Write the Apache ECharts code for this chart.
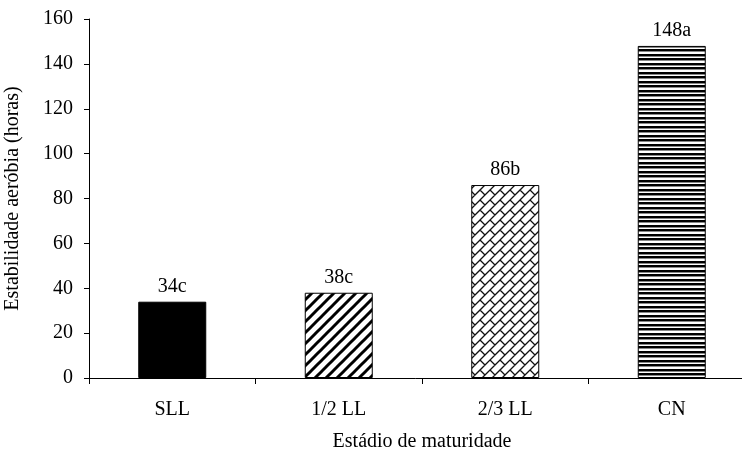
<!DOCTYPE html>
<html>
<head>
<meta charset="utf-8">
<script src="https://cdn.jsdelivr.net/npm/echarts@6/dist/echarts.min.js"></script>
<style>
    html, body { margin: 0; padding: 0; background: #fff; }
    #chart { width: 742px; height: 455px; }
</style>
</head>
<body>
<div id="chart"></div>
<script>
var categories = ['SLL', '1/2 LL', '2/3 LL', 'CN'];
var values = [34, 38, 86, 148];
var letters = ['c', 'c', 'b', 'a'];

// pattern tiles
function makeTile(w, h, draw) {
    var c = document.createElement('canvas');
    c.width = w; c.height = h;
    var ctx = c.getContext('2d');
    ctx.fillStyle = '#fff';
    ctx.fillRect(0, 0, w, h);
    ctx.strokeStyle = '#000';
    ctx.fillStyle = '#000';
    draw(ctx);
    return c;
}

var diagTile = makeTile(11, 11, function (ctx) {
    ctx.lineWidth = 3;
    for (var k = -1; k <= 1; k++) {
        ctx.beginPath();
        ctx.moveTo(k * 11 - 2, 13);
        ctx.lineTo(k * 11 + 13, -2);
        ctx.stroke();
    }
});

// diagonal bricks
var S = 10;
var brickTile = makeTile(2 * S, 2 * S, function (ctx) {
    ctx.lineWidth = 1.3;
    ctx.strokeStyle = '#111';
    ctx.beginPath();
    for (var c = -2 * S; c <= 4 * S; c += S) {
        // long "/" line x+y=c
        ctx.moveTo(c + 2, -2);
        ctx.lineTo(c - 2 * S - 2, 2 * S + 2);
        var odd = ((c / S) % 2 + 2) % 2;
        for (var d = -4 * S; d <= 4 * S; d += 2 * S) {
            var dd = d + (odd ? S : 0);
            ctx.moveTo((c + dd) / 2, (c - dd) / 2);
            ctx.lineTo((c + S + dd) / 2, (c + S - dd) / 2);
        }
    }
    ctx.stroke();
});

var horizTile = makeTile(4, 9, function (ctx) {
    ctx.fillRect(0, 0, 4, 2);
    ctx.fillStyle = '#888';
    ctx.fillRect(0, 2, 4, 1);
    ctx.fillStyle = '#000';
    ctx.fillRect(0, 4, 4, 2);
    ctx.fillStyle = '#888';
    ctx.fillRect(0, 6, 4, 1);
});

var fills = [
    '#000',
    { image: diagTile, repeat: 'repeat' },
    { image: brickTile, repeat: 'repeat' },
    { image: horizTile, repeat: 'repeat' }
];

var data = values.map(function (v, i) {
    return {
        value: v,
        itemStyle: { color: fills[i] },
        label: { formatter: v + letters[i] }
    };
});

var font = 'Liberation Serif, Times New Roman, serif';
var chart = echarts.init(document.getElementById('chart'));
chart.setOption({
    animation: false,
    textStyle: { fontFamily: font },
    grid: { left: 89, top: 19, width: 666, height: 359, outerBoundsMode: 'none' },
    xAxis: {
        type: 'category',
        data: categories,
        name: 'Estádio de maturidade',
        nameLocation: 'middle',
        nameGap: 54,
        nameTextStyle: { fontFamily: font, fontSize: 20, color: '#000' },
        axisLine: { lineStyle: { color: '#000', width: 1 } },
        axisTick: { show: true, length: 6, lineStyle: { color: '#000' } },
        axisLabel: { fontFamily: font, fontSize: 20, color: '#000', margin: 22 }
    },
    yAxis: {
        type: 'value',
        min: 0,
        max: 160,
        interval: 20,
        name: 'Estabilidade aeróbia (horas)',
        nameLocation: 'middle',
        nameGap: 66,
        nameTextStyle: { fontFamily: font, fontSize: 20, color: '#000' },
        axisLine: { show: true, lineStyle: { color: '#000', width: 1 } },
        axisTick: { show: true, length: 5, lineStyle: { color: '#000' } },
        axisLabel: { fontFamily: font, fontSize: 20, color: '#000', margin: 16 },
        splitLine: { show: false }
    },
    series: [{
        type: 'bar',
        data: data,
        barWidth: 68,
        itemStyle: { borderColor: '#000', borderWidth: 1 },
        label: {
            show: true,
            position: 'top',
            distance: 5,
            fontFamily: font,
            fontSize: 20,
            color: '#000'
        }
    }]
});
</script>
</body>
</html>
